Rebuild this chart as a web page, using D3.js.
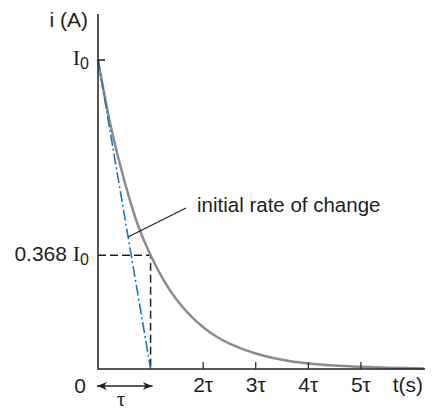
<!DOCTYPE html>
<meta charset="utf-8">
<script src="https://cdnjs.cloudflare.com/ajax/libs/d3/7.8.5/d3.min.js"></script>
<style>
	body { margin: 0; background: #fff; }
	svg text { font-family: "Liberation Sans", Arial, sans-serif; fill: #231f20; }
	.serif { font-family: "Liberation Serif", "Times New Roman", serif; }
</style>
<svg id="plot" width="433" height="411"></svg>
<script>

	// time in units of tau, current as fraction of I0
	var tVals = [0, 0.25, 0.5, 0.75, 1, 1.25, 1.5, 1.75, 2, 2.25, 2.5, 3, 3.5, 4, 4.5, 5, 5.5, 6.2];
	var iVals = [1, 0.78, 0.61, 0.47, 0.368, 0.287, 0.223, 0.174, 0.135, 0.105, 0.082, 0.05, 0.03, 0.018, 0.011, 0.007, 0.004, 0.002];

	var tickVals = [2, 3, 4, 5];
	var tickLabels = ["2τ", "3τ", "4τ", "5τ"];

	var tau = 1, markLevel = 0.368;

	var svg = d3.select("#plot");

	var x = d3.scaleLinear().domain([0, 6.2]).range([98, 424]),
		y = d3.scaleLinear().domain([0, 1]).range([369, 60]);

	var defs = svg.append("defs");
	defs.append("marker")
		.attr("id", "head")
		.attr("viewBox", "0 0 10 8")
		.attr("refX", 10).attr("refY", 4)
		.attr("markerWidth", 10).attr("markerHeight", 8)
		.attr("markerUnits", "userSpaceOnUse")
		.attr("orient", "auto-start-reverse")
		.append("path").attr("d", "M0,0 L10,4 L0,8 L3,4 Z").attr("fill", "#231f20");

	// dashed guide to 0.368 I0 at t = tau
	svg.append("path")
		.attr("d", "M" + x(0) + "," + y(markLevel) + "H" + x(tau) + "V" + y(0))
		.attr("fill", "none").attr("stroke", "#231f20")
		.attr("stroke-width", 1.5).attr("stroke-dasharray", "8,4");

	// curve
	var line = d3.line()
		.x(function(d, k){ return x(tVals[k]); })
		.y(function(d){ return y(d); })
		.curve(d3.curveCatmullRom);

	svg.append("path").datum(iVals)
		.attr("d", line)
		.attr("fill", "none").attr("stroke", "#8c8c8c").attr("stroke-width", 2.5);

	// initial rate of change tangent
	svg.append("line")
		.attr("x1", x(0)).attr("y1", y(1))
		.attr("x2", x(tau)).attr("y2", y(0))
		.attr("stroke", "#1b78c0").attr("stroke-width", 1.6)
		.attr("stroke-dasharray", "11,3,2,3");

	// axes
	svg.append("path")
		.attr("d", "M" + x(0) + ",14V" + y(0) + "H425")
		.attr("fill", "none").attr("stroke", "#231f20").attr("stroke-width", 1.5);

	svg.append("line")
		.attr("x1", x(0)).attr("x2", x(0) + 7)
		.attr("y1", y(1)).attr("y2", y(1))
		.attr("stroke", "#231f20").attr("stroke-width", 1.5);

	svg.selectAll(".tick").data(tickVals).enter()
		.append("line")
		.attr("x1", function(d){ return x(d); })
		.attr("x2", function(d){ return x(d); })
		.attr("y1", y(0)).attr("y2", y(0) - 7)
		.attr("stroke", "#231f20").attr("stroke-width", 1.2);

	svg.selectAll(".ticklabel").data(tickVals).enter()
		.append("text")
		.attr("x", function(d){ return x(d); })
		.attr("y", 392)
		.attr("text-anchor", "middle")
		.attr("font-size", 21)
		.text(function(d, k){ return tickLabels[k]; });

	svg.append("text").attr("x", 423).attr("y", 392)
		.attr("text-anchor", "end").attr("font-size", 21).text("t(s)");

	svg.append("text").attr("x", 80).attr("y", 393)
		.attr("text-anchor", "middle").attr("font-size", 21).text("0");

	svg.append("text").attr("x", 88).attr("y", 27)
		.attr("text-anchor", "end").attr("font-size", 21).text("i (A)");

	// y labels
	function iLabel(prefix, yy){
		var t = svg.append("text").attr("x", 89).attr("y", yy)
			.attr("text-anchor", "end").attr("font-size", 21);
		if (prefix) t.append("tspan").text(prefix + " ");
		t.append("tspan").attr("class", "serif").attr("font-size", 22).text("I");
		t.append("tspan").attr("font-size", 16).attr("dy", 4).text("0");
	}
	iLabel("", y(1) + 5);
	iLabel("0.368", y(markLevel) + 6);

	// tau arrow
	svg.append("line")
		.attr("x1", x(0) - 1).attr("x2", x(tau) + 2)
		.attr("y1", 386).attr("y2", 386)
		.attr("stroke", "#231f20").attr("stroke-width", 1.5)
		.attr("marker-start", "url(#head)").attr("marker-end", "url(#head)");

	svg.append("text").attr("class", "serif").attr("x", 121).attr("y", 406)
		.attr("text-anchor", "middle").attr("font-size", 20).text("τ");

	// annotation
	svg.append("line")
		.attr("x1", 128).attr("y1", 237).attr("x2", 186).attr("y2", 208)
		.attr("stroke", "#231f20").attr("stroke-width", 1.2);

	svg.append("text").attr("x", 197).attr("y", 212)
		.attr("font-size", 20.5).text("initial rate of change");

</script>
